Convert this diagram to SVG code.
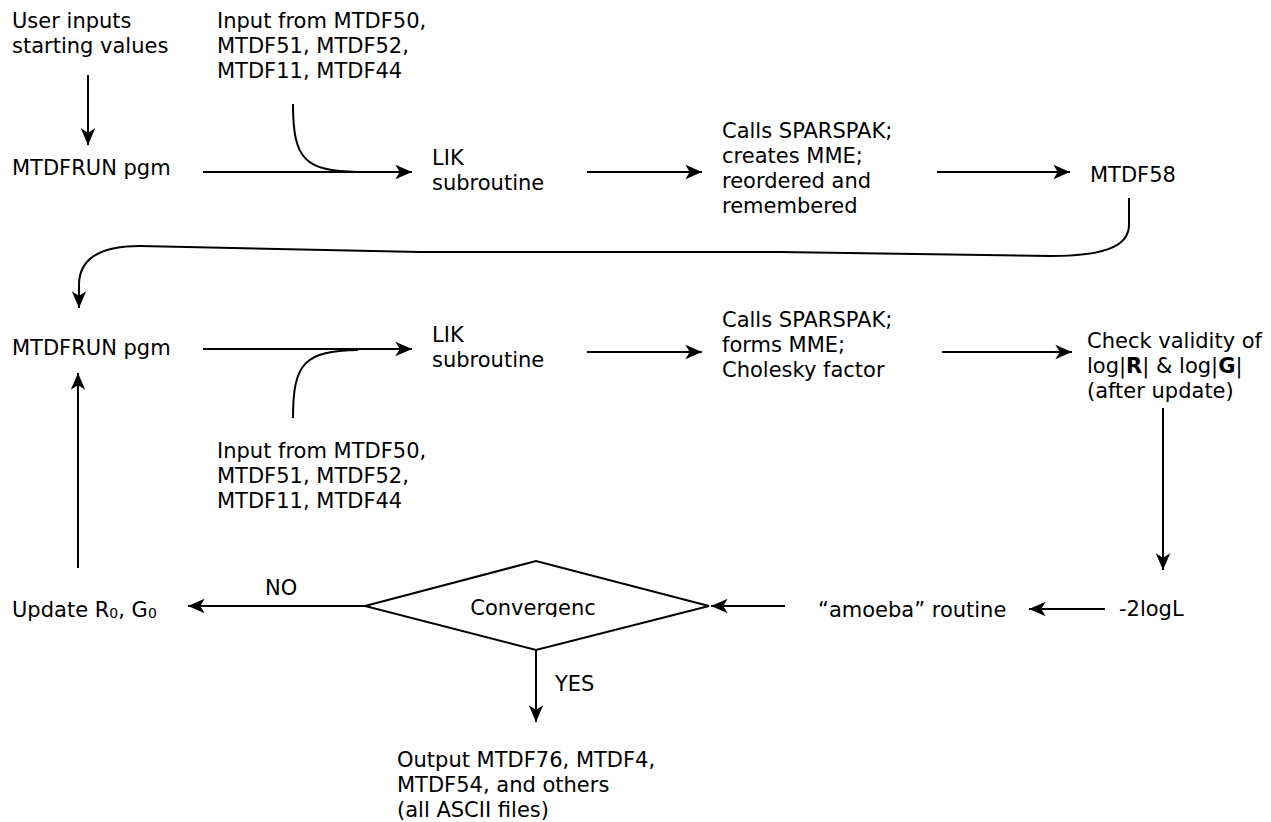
<svg xmlns="http://www.w3.org/2000/svg" width="1271" height="822" viewBox="0 0 1271 822">
<style>
text{font-family:"DejaVu Sans","Verdana",sans-serif;font-size:21px;fill:#000}
.c{fill:none;stroke:#000;stroke-width:2}
.sub{font-size:14px}
</style>
<defs>
<marker id="ah" markerUnits="userSpaceOnUse" markerWidth="20" markerHeight="20" viewBox="-16 -8 18 16" refX="0" refY="0" orient="auto">
<path d="M0,0 L-15,-6.5 L-11,0 L-15,6.5 Z" fill="#000"/>
</marker>
<clipPath id="cv"><rect x="360" y="550" width="360" height="67"/></clipPath>
</defs>
<rect width="1271" height="822" fill="#fff"/>
<g id="connectors">
<path class="c" d="M88,75 V145" marker-end="url(#ah)"/>
<path class="c" d="M203,172 H412" marker-end="url(#ah)"/>
<path class="c" d="M293,104 C293,160 305,171 358,172"/>
<path class="c" d="M587,172 H702" marker-end="url(#ah)"/>
<path class="c" d="M937,172 H1070" marker-end="url(#ah)"/>
<path class="c" d="M1129,198 L1129,225 C1129,248 1100,256 1050,256 L780,252 L420,252 L140,246 C100,246 79,258 79,285 L79,308" marker-end="url(#ah)"/>
<path class="c" d="M203,349 H412" marker-end="url(#ah)"/>
<path class="c" d="M293,418 C293,362 305,351 358,350"/>
<path class="c" d="M587,352 H702" marker-end="url(#ah)"/>
<path class="c" d="M942,352 H1072" marker-end="url(#ah)"/>
<path class="c" d="M1163,408 V570" marker-end="url(#ah)"/>
<path class="c" d="M1105,609 H1029" marker-end="url(#ah)"/>
<path class="c" d="M785,606 H711" marker-end="url(#ah)"/>
<path class="c" d="M365,606 H188" marker-end="url(#ah)"/>
<path class="c" d="M536,650 V722" marker-end="url(#ah)"/>
<path class="c" d="M78,568 V373" marker-end="url(#ah)"/>
<text x="265" y="595">NO</text>
<text x="555" y="691">YES</text>
</g>
<g id="user-inputs"><text x="12" y="28">User inputs</text><text x="12" y="53">starting values</text></g>
<g id="input-top"><text x="217" y="28">Input from MTDF50,</text><text x="217" y="53">MTDF51, MTDF52,</text><text x="217" y="78">MTDF11, MTDF44</text></g>
<g id="mtdfrun-1"><text x="12" y="175">MTDFRUN pgm</text></g>
<g id="lik-1"><text x="432" y="165">LIK</text><text x="432" y="190">subroutine</text></g>
<g id="sparspak-1"><text x="722" y="138">Calls SPARSPAK;</text><text x="722" y="163">creates MME;</text><text x="722" y="188">reordered and</text><text x="722" y="213">remembered</text></g>
<g id="mtdf58"><text x="1090" y="182">MTDF58</text></g>
<g id="mtdfrun-2"><text x="12" y="355">MTDFRUN pgm</text></g>
<g id="lik-2"><text x="432" y="342">LIK</text><text x="432" y="367">subroutine</text></g>
<g id="sparspak-2"><text x="722" y="327">Calls SPARSPAK;</text><text x="722" y="352">forms MME;</text><text x="722" y="377">Cholesky factor</text></g>
<g id="check"><text x="1087" y="348">Check validity of</text><text x="1087" y="373">log|<tspan font-weight="bold">R</tspan>| &amp; log|<tspan font-weight="bold">G</tspan>|</text><text x="1087" y="398">(after update)</text></g>
<g id="input-bottom"><text x="217" y="458">Input from MTDF50,</text><text x="217" y="483">MTDF51, MTDF52,</text><text x="217" y="508">MTDF11, MTDF44</text></g>
<g id="update"><text x="12" y="617">Update R<tspan class="sub" dy="1">0</tspan><tspan dy="-1">, G</tspan><tspan class="sub" dy="1">0</tspan></text></g>
<g id="convergence"><polygon class="c" points="365,606 536,561 709,606 536,650"/><text x="533" y="615" text-anchor="middle" clip-path="url(#cv)">Convergenc</text></g>
<g id="amoeba"><text x="818" y="617">“amoeba” routine</text></g>
<g id="loglik"><text x="1119" y="616">-2logL</text></g>
<g id="output"><text x="397" y="767">Output MTDF76, MTDF4,</text><text x="397" y="792">MTDF54, and others</text><text x="397" y="817">(all ASCII files)</text></g>
</svg>
